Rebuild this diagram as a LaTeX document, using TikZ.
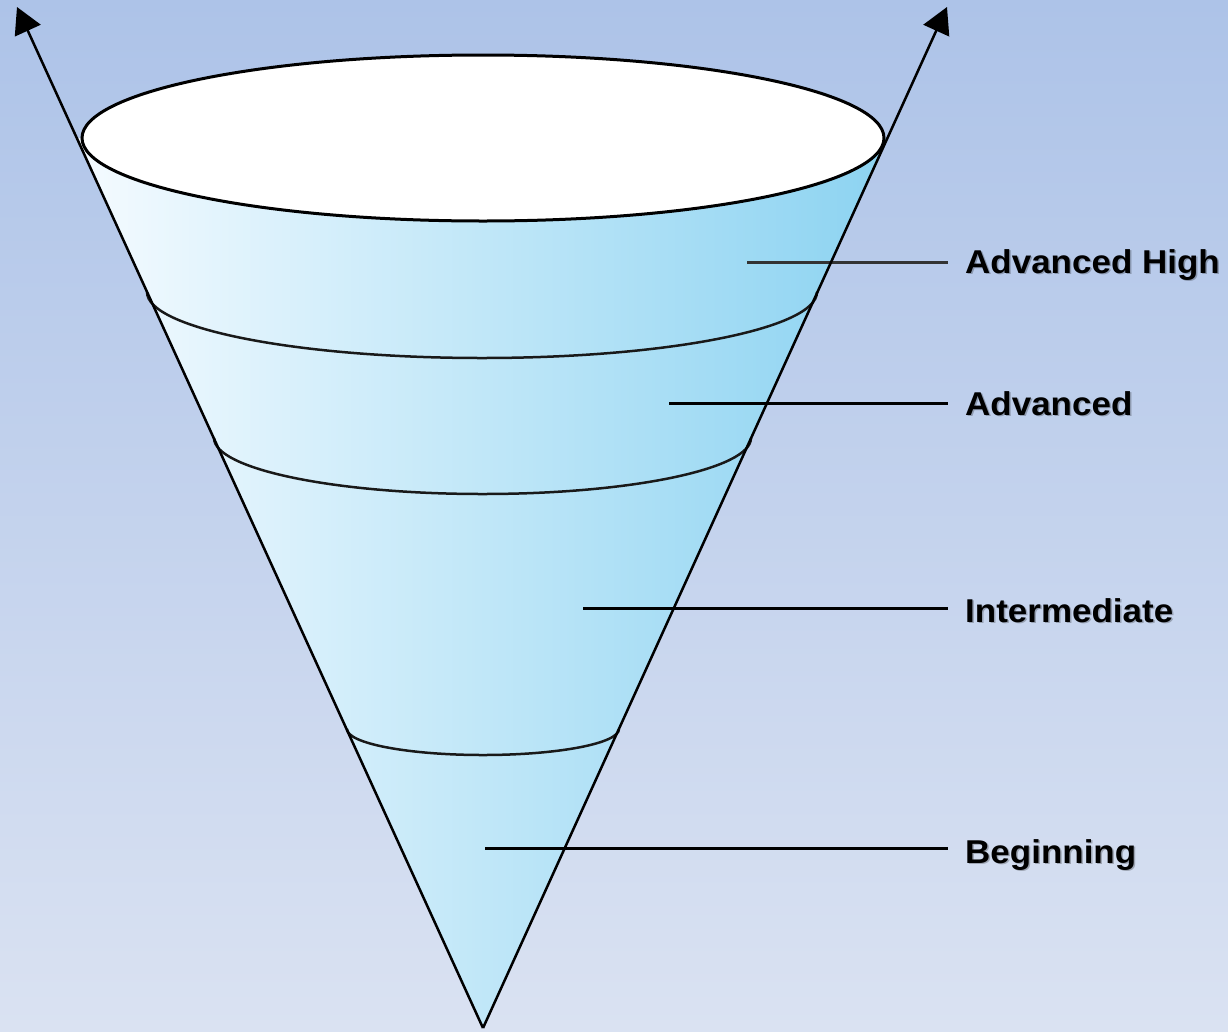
\documentclass[tikz,border=0pt]{standalone}
\usepackage{fontspec}
\setmainfont{Liberation Sans}
\usetikzlibrary{arrows.meta}
\definecolor{bgtop}{HTML}{ADC3E8}
\definecolor{bgbot}{HTML}{DAE2F2}
\definecolor{coneL}{HTML}{F5FBFF}
\definecolor{coneM}{HTML}{C9E8F8}
\definecolor{coneR}{HTML}{8CD3F1}
\newcommand{\lbltext}[1]{\scalebox{1.06}[1]{#1}}
\tikzset{
  side/.style={line width=2.5pt, black, -{Triangle[length=26pt,width=28pt]}},
  band/.style={line width=2.5pt, black!90},
  rim/.style={line width=3pt, black, fill=white},
  lead/.style={line width=3pt, black},
  lbl/.style={anchor=base west, inner sep=0pt, font=\fontsize{33}{40}\selectfont\bfseries, text=black},
  lblshadow/.style={lbl, text=black, opacity=0.25}
}
\begin{document}
\begin{tikzpicture}[x=1pt,y=-1pt]
\fill[top color=bgtop,bottom color=bgbot] (0,0) rectangle (1228,1031);
\useasboundingbox (0,0) rectangle (1228,1031);
% cone body
\coordinate (apex) at (483,1028);
\coordinate (tipL) at (17,7);
\coordinate (tipR) at (947,7);
\fill[left color=coneL, middle color=coneM, right color=coneR]
  (apex) -- (77,138) -- (82,138) arc[start angle=180,end angle=0,x radius=401,y radius=83] -- (887,138) -- cycle;
% band curves
\draw[band] (147,292) arc[start angle=180,end angle=0,x radius=335,y radius=66];
\draw[band] (214,438) arc[start angle=180,end angle=0,x radius=268.5,y radius=56];
\draw[band] (347,729) arc[start angle=180,end angle=0,x radius=136,y radius=26];
% top rim
\draw[rim] (483,138) ellipse[x radius=401,y radius=83];
% label shadows
\node[lblshadow] (shAH) at (966.5,274.5) {\lbltext{Advanced High}};
\node[lblshadow] (shA)  at (966.5,416.5) {\lbltext{Advanced}};
\node[lblshadow] (shI)  at (966.5,623.5) {\lbltext{Intermediate}};
\node[lblshadow] (shB)  at (966.5,864.5) {\lbltext{Beginning}};
% labels
\node[lbl] (lAH) at (965,273) {\lbltext{Advanced High}};
\node[lbl] (lA)  at (965,415) {\lbltext{Advanced}};
\node[lbl] (lI)  at (965,622) {\lbltext{Intermediate}};
\node[lbl] (lB)  at (965,863) {\lbltext{Beginning}};
\coordinate (sAH) at (747,262); \coordinate (eAH) at (948,262);
\coordinate (sA)  at (669,403); \coordinate (eA)  at (948,403);
\coordinate (sI)  at (583,608); \coordinate (eI)  at (948,608);
\coordinate (sB)  at (485,848); \coordinate (eB)  at (948,848);
\draw[lead, black!80] (sAH) -- (eAH);
\draw[lead] (sA) -- (eA);
\draw[lead] (sI) -- (eI);
\draw[lead] (sB) -- (eB);
% cone sides with arrows
\draw[side] (apex) -- (tipL);
\draw[side] (apex) -- (tipR);
\end{tikzpicture}
\end{document}
